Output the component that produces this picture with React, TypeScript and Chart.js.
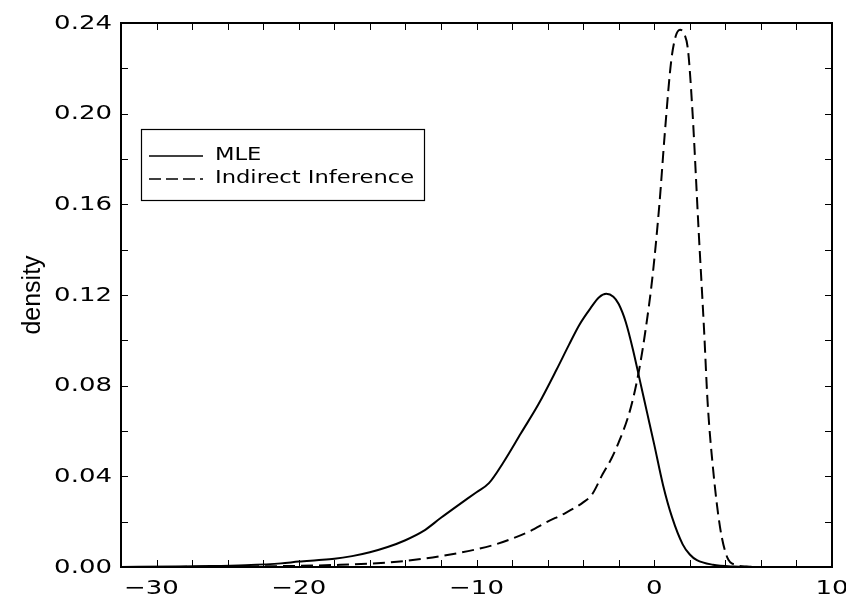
import React, { useEffect, useRef } from "react";
import { Chart, registerables } from "chart.js";

Chart.register(...registerables);

// ---- data ----
const mleX = [-30, -27, -25, -23, -21, -20, -19, -18, -17, -16, -15, -14, -13, -12, -11, -10, -9.3, -8.5, -7.5, -6.5, -5.5, -4.8, -4.2, -3.6, -3.1, -2.7, -2.3, -2.0, -1.6, -1.2, -0.8, -0.4, 0, 0.5, 1.0, 1.6, 2.0, 2.4, 3.3, 4.5, 6, 8, 10];
const mleY = [0, 0.0002, 0.0004, 0.0008, 0.0016, 0.0024, 0.003, 0.0036, 0.0048, 0.0065, 0.0088, 0.0118, 0.0158, 0.0217, 0.0274, 0.033, 0.037, 0.046, 0.059, 0.072, 0.087, 0.098, 0.107, 0.114, 0.119, 0.1205, 0.1192, 0.116, 0.108, 0.096, 0.082, 0.068, 0.054, 0.036, 0.022, 0.010, 0.0055, 0.003, 0.001, 0.0002, 0, 0, 0];

const iiX = [-30, -25, -22, -20, -18, -16, -14, -12, -10, -9, -8, -7, -6, -5, -4, -3.5, -2.9, -2.4, -2.0, -1.5, -1.2, -0.85, -0.5, -0.1, 0.3, 0.6, 0.95, 1.2, 1.45, 1.7, 1.9, 2.15, 2.5, 2.8, 3.0, 3.3, 3.7, 4.1, 4.6, 5.2, 6, 8, 10];
const iiY = [0, 0.0001, 0.0003, 0.0005, 0.0009, 0.0015, 0.0027, 0.0048, 0.0078, 0.0098, 0.0125, 0.0158, 0.020, 0.0238, 0.0285, 0.032, 0.041, 0.048, 0.055, 0.0655, 0.074, 0.087, 0.104, 0.128, 0.161, 0.192, 0.223, 0.234, 0.237, 0.235, 0.228, 0.201, 0.148, 0.105, 0.073, 0.044, 0.0176, 0.0044, 0.0009, 0.0002, 0, 0, 0];

const seriesNames = ["MLE", "Indirect Inference"];
const xTickLabels = [-30, -20, -10, 0, 10];
const yTickLabels = [0, 0.04, 0.08, 0.12, 0.16, 0.2, 0.24];
const xMinorStep = 2;
const yMinorStep = 0.02;
const yTitle = "density";

const fmtX = (v: number) => (v < 0 ? "\u2212" + Math.abs(v) : String(v));

function wideText(ctx: CanvasRenderingContext2D, text: string, x: number, y: number, align: CanvasTextAlign, sx: number) {
  ctx.save();
  ctx.translate(x, y);
  ctx.scale(sx, 1);
  ctx.textAlign = align;
  ctx.textBaseline = "middle";
  ctx.fillText(text, 0, 0);
  ctx.restore();
}

const framePlugin = {
  id: "frameDecor",
  afterDatasetsDraw(chart: any) {
    const { ctx, chartArea: a, scales } = chart;
    const xs = scales.x;
    const ys = scales.y;
    ctx.save();
    ctx.strokeStyle = "#000";
    ctx.fillStyle = "#000";

    // inward ticks
    ctx.lineWidth = 1;
    ctx.beginPath();
    for (let v = xs.min + xMinorStep; v < xs.max - 1e-9; v += xMinorStep) {
      const px = Math.round(xs.getPixelForValue(v)) + 0.5;
      ctx.moveTo(px, a.bottom);
      ctx.lineTo(px, a.bottom - 7);
      ctx.moveTo(px, a.top);
      ctx.lineTo(px, a.top + 7);
    }
    for (let v = ys.min + yMinorStep; v < ys.max - 1e-9; v += yMinorStep) {
      const py = Math.round(ys.getPixelForValue(v)) + 0.5;
      ctx.moveTo(a.left, py);
      ctx.lineTo(a.left + 7, py);
      ctx.moveTo(a.right, py);
      ctx.lineTo(a.right - 7, py);
    }
    ctx.stroke();

    // frame
    ctx.lineWidth = 2;
    ctx.strokeRect(a.left, a.top, a.right - a.left, a.bottom - a.top);

    // tick labels
    ctx.font = "20px 'DejaVu Sans'";
    yTickLabels.forEach((v) => {
      wideText(ctx, v.toFixed(2), a.left - 9, ys.getPixelForValue(v) + 0.5, "right", 1.3);
    });
    xTickLabels.forEach((v, i) => {
      const px = xs.getPixelForValue(v);
      if (i === 0) wideText(ctx, fmtX(v), a.left + 3, a.bottom + 22, "left", 1.3);
      else if (i === xTickLabels.length - 1) wideText(ctx, fmtX(v), px, a.bottom + 22, "center", 1.3);
      else wideText(ctx, fmtX(v), px, a.bottom + 22, "center", 1.3);
    });

    // y title
    ctx.save();
    ctx.translate(33, (a.top + a.bottom) / 2);
    ctx.rotate(-Math.PI / 2);
    ctx.font = "25px 'Liberation Sans'";
    ctx.textAlign = "center";
    ctx.textBaseline = "middle";
    ctx.fillText(yTitle, 0, 0);
    ctx.restore();

    // legend box
    const bx = 141.5, by = 129.5, bw = 283, bh = 71;
    ctx.fillStyle = "#fff";
    ctx.fillRect(bx, by, bw, bh);
    ctx.lineWidth = 1.2;
    ctx.strokeRect(bx, by, bw, bh);
    ctx.fillStyle = "#000";
    const rows = [156, 179];
    chart.data.datasets.forEach((ds: any, i: number) => {
      ctx.save();
      ctx.lineWidth = 1.6;
      ctx.setLineDash(ds.borderDash ? [12, 5] : []);
      ctx.beginPath();
      ctx.moveTo(149, rows[i]);
      ctx.lineTo(203, rows[i]);
      ctx.stroke();
      ctx.restore();
      ctx.font = "17px 'DejaVu Sans'";
      wideText(ctx, ds.label, 215, rows[i], "left", 1.33);
    });

    ctx.restore();
  },
};

export default function App() {
  const ref = useRef<HTMLCanvasElement | null>(null);

  useEffect(() => {
    if (!ref.current) return;
    const chart = new Chart(ref.current, {
      type: "line",
      data: {
        datasets: [
          {
            label: seriesNames[0],
            data: mleX.map((x, i) => ({ x, y: mleY[i] })),
            borderColor: "#000",
            borderWidth: 2,
            pointRadius: 0,
            fill: false,
            cubicInterpolationMode: "monotone",
          },
          {
            label: seriesNames[1],
            data: iiX.map((x, i) => ({ x, y: iiY[i] })),
            borderColor: "#000",
            borderWidth: 2,
            borderDash: [12, 6],
            pointRadius: 0,
            fill: false,
            cubicInterpolationMode: "monotone",
          },
        ],
      },
      options: {
        animation: false,
        responsive: false,
        maintainAspectRatio: false,
        devicePixelRatio: 1,
        layout: { padding: { left: 121, right: 14, top: 23, bottom: 35 } },
        scales: {
          x: { type: "linear", min: -30, max: 10, display: false },
          y: { type: "linear", min: 0, max: 0.24, display: false },
        },
        plugins: {
          legend: { display: false },
          tooltip: { enabled: false },
        },
      },
      plugins: [framePlugin],
    } as any);
    return () => chart.destroy();
  }, []);

  return (
    <div style={{ position: "absolute", left: 0, top: 0, width: 846, height: 602, background: "#fff" }}>
      <canvas ref={ref} width={846} height={602} style={{ display: "block" }} />
    </div>
  );
}
